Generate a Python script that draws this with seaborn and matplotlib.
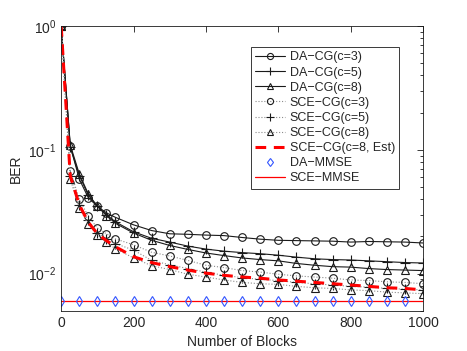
import numpy as np
import pandas as pd
import matplotlib
matplotlib.use("Agg")
import matplotlib.pyplot as plt
import seaborn as sns

blocks = [0, 25, 50, 75, 100, 125, 150, 200, 250, 300, 350, 400, 450, 500,
          550, 600, 650, 700, 750, 800, 850, 900, 950, 1000]

da_cg3 = [1.0, 0.108, 0.058, 0.041, 0.035, 0.031, 0.0285, 0.0248, 0.0223, 0.021,
          0.0208, 0.0205, 0.0203, 0.0196, 0.019, 0.0186, 0.0185, 0.0184, 0.0183,
          0.018, 0.0182, 0.0181, 0.018, 0.0177]
da_cg5 = [1.0, 0.105, 0.062, 0.043, 0.035, 0.030, 0.0262, 0.0218, 0.0193, 0.0180,
          0.0167, 0.0158, 0.0152, 0.0148, 0.0145, 0.0141, 0.0136, 0.0132, 0.0130,
          0.0129, 0.0127, 0.0125, 0.0123, 0.0122]
da_cg8 = [1.0, 0.110, 0.064, 0.044, 0.035, 0.0295, 0.0255, 0.0213, 0.0186, 0.0169,
          0.0157, 0.0147, 0.0140, 0.0134, 0.0130, 0.0127, 0.0121, 0.0117, 0.0114,
          0.0113, 0.0110, 0.0108, 0.0107, 0.0106]
sce_cg3 = [1.0, 0.068, 0.040, 0.029, 0.0234, 0.021, 0.0191, 0.0171, 0.0149, 0.0139,
           0.0128, 0.0117, 0.0112, 0.0106, 0.0103, 0.0099, 0.0096, 0.0094, 0.0092,
           0.0089, 0.0088, 0.0086, 0.0085, 0.0083]
sce_cg5 = [1.0, 0.062, 0.036, 0.027, 0.0215, 0.019, 0.0175, 0.0155, 0.0128, 0.0118,
           0.0110, 0.0103, 0.0097, 0.0093, 0.0090, 0.0088, 0.0085, 0.0083, 0.0081,
           0.0079, 0.0078, 0.0076, 0.0075, 0.0074]
sce_cg8 = [1.0, 0.058, 0.034, 0.025, 0.0206, 0.0179, 0.0159, 0.0134, 0.0116, 0.0108,
           0.0099, 0.0094, 0.0089, 0.0085, 0.0083, 0.0082, 0.0079, 0.0077, 0.0076,
           0.0074, 0.0073, 0.0071, 0.0070, 0.0069]
sce_cg8_est = [1.0, 0.062, 0.036, 0.026, 0.021, 0.0185, 0.0165, 0.0137, 0.0123, 0.0114,
               0.0107, 0.0101, 0.0097, 0.0094, 0.0092, 0.0089, 0.0087, 0.0085, 0.0083,
               0.0081, 0.0079, 0.0077, 0.0076, 0.0074]

mmse_blocks = list(range(0, 1000, 50))
da_mmse = [0.006] * len(mmse_blocks)
sce_mmse = [0.006] * len(blocks)

sns.set_theme(style="white")
plt.rcParams["font.family"] = ["Liberation Sans", "DejaVu Sans"]
plt.rcParams["font.size"] = 10

fig = plt.figure(figsize=(4.67, 3.51), dpi=100)
ax = fig.add_axes([0.131, 0.114, 0.775, 0.812])

ms = 5.5
sns.lineplot(x=blocks, y=sce_mmse, ax=ax, color="red", lw=0.9, label="SCE\u2212MMSE",
             zorder=1)
sns.lineplot(x=blocks, y=da_cg3, ax=ax, color="k", lw=0.8, marker="o", ms=ms,
             mfc="none", mec="k", mew=0.8, label="DA\u2212CG(c=3)")
sns.lineplot(x=blocks, y=da_cg5, ax=ax, color="k", lw=0.8, marker="+", ms=7,
             mec="k", mew=0.8, label="DA\u2212CG(c=5)")
sns.lineplot(x=blocks, y=da_cg8, ax=ax, color="k", lw=0.8, marker="^", ms=ms,
             mfc="none", mec="k", mew=0.8, label="DA\u2212CG(c=8)")
sns.lineplot(x=blocks, y=sce_cg3, ax=ax, color="0.55", lw=0.8, ls=":", marker="o",
             ms=ms, mfc="none", mec="k", mew=0.8, label="SCE\u2212CG(c=3)")
sns.lineplot(x=blocks, y=sce_cg5, ax=ax, color="0.55", lw=0.8, ls=":", marker="+",
             ms=7, mec="k", mew=0.8, label="SCE\u2212CG(c=5)")
sns.lineplot(x=blocks, y=sce_cg8, ax=ax, color="0.55", lw=0.8, ls=":", marker="^",
             ms=ms, mfc="none", mec="k", mew=0.8, label="SCE\u2212CG(c=8)")
sns.lineplot(x=blocks, y=sce_cg8_est, ax=ax, color="red", lw=2.2, ls=(0, (3.5, 2.5)),
             label="SCE\u2212CG(c=8, Est)")
sns.lineplot(x=mmse_blocks, y=da_mmse, ax=ax, color="#3355ff", lw=0, marker="d",
             ms=5.5, mfc="none", mec="#3355ff", mew=0.8, label="DA\u2212MMSE")

ax.set_yscale("log")
ax.set_xlim(0, 1000)
ax.set_ylim(0.005, 1)
ax.set_xticks([0, 200, 400, 600, 800, 1000])
ax.set_xlabel("Number of Blocks", fontsize=10)
ax.set_ylabel("BER", fontsize=10)
ax.tick_params(which="both", direction="in", top=True, right=True, labelsize=10,
               width=0.6, color="k")
ax.tick_params(which="major", length=4)
ax.tick_params(which="minor", length=2)
for s in ax.spines.values():
    s.set_color("k")
    s.set_linewidth(0.6)

# legend order as in the reference: SCE-MMSE goes last
handles, labels = ax.get_legend_handles_labels()
order = list(range(1, len(labels))) + [0]
leg = ax.legend([handles[i] for i in order], [labels[i] for i in order],
                loc="upper right", bbox_to_anchor=(0.952, 0.948), fontsize=9,
                frameon=True, fancybox=False, framealpha=1, edgecolor="k",
                handlelength=2.4, borderpad=0.35, labelspacing=0.25,
                handletextpad=0.35, markerscale=0.8)
leg.get_frame().set_linewidth(0.6)

fig.savefig("out.png", dpi=100)
